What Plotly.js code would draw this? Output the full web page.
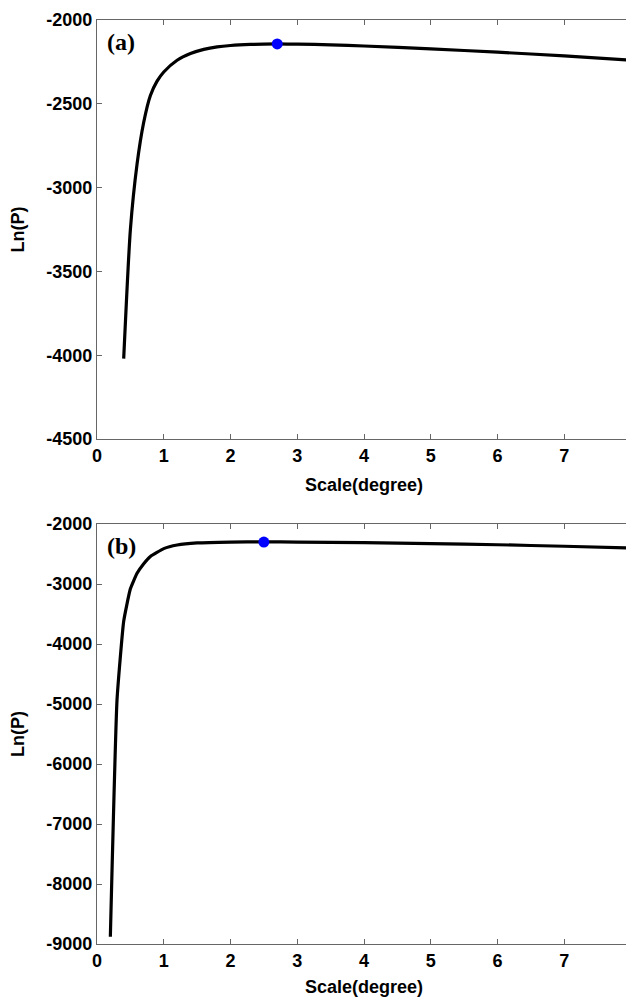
<!DOCTYPE html>
<html>
<head>
<meta charset="utf-8">
<script src="https://cdn.plot.ly/plotly-3.0.1.min.js"></script>
<style>
html,body{margin:0;padding:0;overflow:hidden;background:#fff;width:626px;height:997px;}
#chart{width:660px;height:997px;}
</style>
</head>
<body>
<div id="chart"></div>
<script>
// Panel (a)
const scaleA = [0.4, 0.5, 0.6, 0.7, 0.8, 0.9, 1.0, 1.2, 1.4, 1.6, 1.8, 2.0, 2.3, 2.7, 3.0, 3.5, 4.0, 5.0, 6.0, 7.0, 8.0];
const lnPA   = [-4020, -3250, -2860, -2610, -2450, -2365, -2310, -2240, -2200, -2175, -2160, -2152, -2146, -2143, -2144, -2148, -2155, -2172, -2192, -2214, -2240];
const peakA  = {x: [2.7], y: [-2143]};
// Panel (b)
const scaleB = [0.2, 0.3, 0.4, 0.5, 0.6, 0.7, 0.8, 1.0, 1.2, 1.5, 2.0, 2.5, 3.0, 4.0, 5.0, 6.0, 7.0, 8.0];
const lnPB   = [-8880, -4930, -3620, -3080, -2820, -2660, -2540, -2410, -2350, -2315, -2300, -2298, -2300, -2310, -2325, -2345, -2370, -2400];
const peakB  = {x: [2.5], y: [-2300]};

const xTicks = [0, 1, 2, 3, 4, 5, 6, 7, 8];
const yTicksA = [-4500, -4000, -3500, -3000, -2500, -2000];
const yTicksB = [-9000, -8000, -7000, -6000, -5000, -4000, -3000, -2000];
const panelLabels = ['(a)', '(b)'];
const xTitle = 'Scale(degree)';
const yTitle = 'Ln(P)';

const tickFont = {family: 'Liberation Sans, Arial, sans-serif', size: 18, color: '#000'};
const titleFont = {family: 'Liberation Sans, Arial, sans-serif', size: 18, color: '#000'};
const bold = s => '<b>' + s + '</b>';

const traces = [
  {x: scaleA, y: lnPA, xaxis: 'x', yaxis: 'y', mode: 'lines', line: {color: '#000', width: 3.2, shape: 'spline', smoothing: 0.6}, hoverinfo: 'none'},
  {x: peakA.x, y: peakA.y, xaxis: 'x', yaxis: 'y', mode: 'markers', marker: {color: '#0000ff', size: 11}, hoverinfo: 'none'},
  {x: scaleB, y: lnPB, xaxis: 'x2', yaxis: 'y2', mode: 'lines', line: {color: '#000', width: 3.2, shape: 'spline', smoothing: 0.4}, hoverinfo: 'none'},
  {x: peakB.x, y: peakB.y, xaxis: 'x2', yaxis: 'y2', mode: 'markers', marker: {color: '#0000ff', size: 11}, hoverinfo: 'none'}
];

function xAxis(anchor) {
  return {
    anchor: anchor, domain: [0, 1], range: [0, 8], tickvals: xTicks, ticktext: xTicks.map(v => bold(String(v))),
    ticks: 'inside', ticklen: 5, tickcolor: '#666', tickwidth: 1,
    showline: true, linecolor: '#666', linewidth: 1.2, mirror: 'allticks',
    showgrid: false, zeroline: false, tickfont: tickFont,
    title: {text: bold(xTitle), font: titleFont, standoff: 13}, automargin: false
  };
}
function yAxis(anchor, domain, range, vals) {
  return {
    anchor: anchor, domain: domain, range: range, tickvals: vals, ticktext: vals.map(v => bold(String(v))),
    ticks: 'inside', ticklen: 5, tickcolor: '#666', tickwidth: 1,
    showline: true, linecolor: '#666', linewidth: 1.2, mirror: 'allticks',
    showgrid: false, zeroline: false, tickfont: tickFont,
    title: {text: bold(yTitle), font: titleFont, standoff: 16}, automargin: false
  };
}

const layout = {
  width: 660, height: 997,
  margin: {l: 97, r: 29, t: 20, b: 53},
  paper_bgcolor: '#fff', plot_bgcolor: '#fff',
  showlegend: false,
  xaxis: xAxis('y'),
  yaxis: yAxis('x', [0.5465, 1], [-4500, -2000], yTicksA),
  xaxis2: xAxis('y2'),
  yaxis2: yAxis('x2', [0, 0.4545], [-9000, -2000], yTicksB),
  annotations: panelLabels.map((t, i) => ({
    text: bold(t), xref: i === 0 ? 'x domain' : 'x2 domain', yref: i === 0 ? 'y domain' : 'y2 domain',
    x: 0.015, y: 0.947, xanchor: 'left', yanchor: 'middle', showarrow: false,
    font: {family: 'Liberation Serif, Times New Roman, serif', size: 24, color: '#000'}
  }))
};

Plotly.newPlot('chart', traces, layout, {staticPlot: true, displayModeBar: false});
</script>
</body>
</html>
